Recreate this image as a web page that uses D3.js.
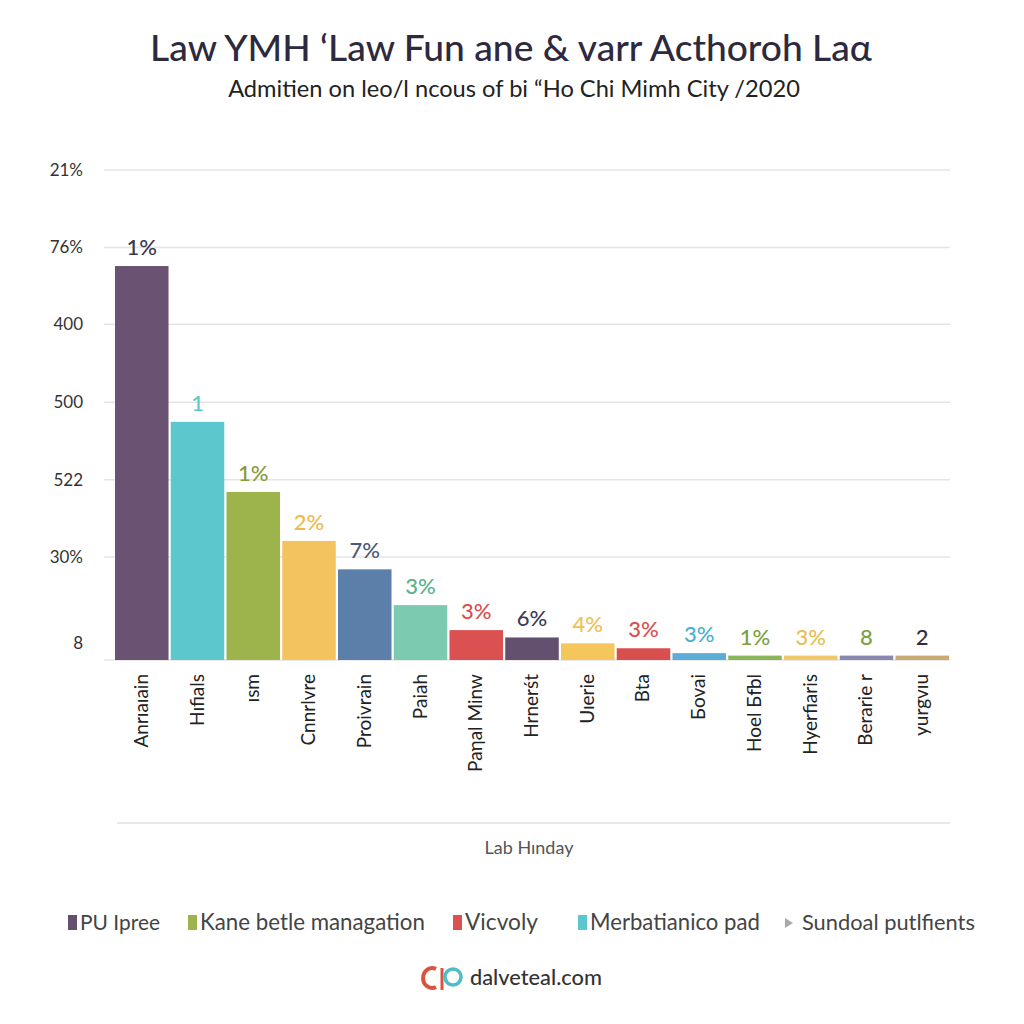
<!DOCTYPE html>
<html><head><meta charset="utf-8">
<script src="https://cdn.jsdelivr.net/npm/d3@7"></script>
<style>body{margin:0;background:#fff}svg{display:block}text{font-family:Lato,"Open Sans",sans-serif}</style>
</head><body><svg id="c" width="1024" height="1024"></svg>
<script>
const title = "Law YMH \u2018Law Fun ane & varr Acthoroh La\u03b1";
const subtitle = "Admitien on leo/l ncous of bi \u201cHo Chi Mimh City /2020";
const categories = ["Anrıaıain","Hıfials","ısm","Cnnrlvre","Proivrain","Paiah","Paηal Minw","Hrnerśt","Uıerie","Bta","Бovai","Hoel Бfbl","Hyerfiaris","Berarie r","yurgvıu"];
const values = [80.4, 48.6, 34.3, 24.3, 18.5, 11.2, 6.1, 4.6, 3.4, 2.4, 1.4, 0.9, 0.9, 0.9, 0.9];
const valueLabels = ["1%","1","1%","2%","7%","3%","3%","6%","4%","3%","3%","1%","3%","8","2"];
const barColors = ["#6a5272","#5cc8cd","#9db34b","#f3c35d","#5b7fa9","#7ccbb1","#db5050","#63506f","#f4c65b","#d94f4f","#5aaed5","#8ab55a","#f0c868","#8a88b0","#c9aa72"];
const labelColors = ["#3b3550","#5cc8cd","#879a3c","#f0b94a","#4a5a7a","#5ab38c","#d94f4f","#3f3a55","#f0c050","#d94f4f","#4ab0d0","#7aa040","#e6c04f","#7aa040","#2f2f3c"];
const yTickValues = [3.5, 21, 36.8, 52.6, 68.5, 84.2, 100];
const yTickLabels = ["8","30%","522","500","400","76%","21%"];
const xTitle = "Lab Hınday";
const legendItems = ["PU Ipree","Kane betle managation","Vicvoly","Merbatianico pad","Sundoal putlfients"];
const legendColors = ["#63506f","#9db34b","#db5050","#5cc8cd","#aaaaaa"];
const legendX = [68, 188, 453, 578, 785];
const legendW = [80, 225, 73, 170, 173];

function fit(sel, w, base){
  const n = sel.node(); const L = n.getComputedTextLength();
  sel.attr("font-size", base * w / L);
}

const svg = d3.select("#c");
const t1 = svg.append("text").attr("x",511).attr("y",61).attr("text-anchor","middle")
  .attr("font-size",30).attr("fill","#2d2a40").attr("font-weight",500).text(title);
fit(t1, 722, 30);
const t2 = svg.append("text").attr("x",514).attr("y",97).attr("text-anchor","middle")
  .attr("font-size",20).attr("fill","#222").text(subtitle);
fit(t2, 572, 20);

const y = d3.scaleLinear().domain([0,100]).range([660,170]);
const x = d3.scaleBand().domain(categories).range([115,949]).paddingInner(0.04).paddingOuter(0);

// grid
svg.append("g").selectAll("line").data(yTickValues.slice(1)).join("line")
  .attr("x1",104).attr("x2",950).attr("y1",d=>y(d)).attr("y2",d=>y(d))
  .attr("stroke","#e4e4e4").attr("stroke-width",1.5);
svg.append("line").attr("x1",104).attr("x2",950).attr("y1",y(0)).attr("y2",y(0))
  .attr("stroke","#e4e4e4").attr("stroke-width",1.5);

// y axis labels
const yAxis = d3.axisLeft(y).tickValues(yTickValues).tickSize(0)
  .tickFormat((d,i)=>yTickLabels[i]);
const ga = svg.append("g").attr("transform","translate(86,0)").call(yAxis);
ga.select(".domain").remove();
ga.selectAll("text").attr("font-size",17).attr("fill","#333").attr("font-family","Lato,sans-serif").attr("dx",0);

// bars
svg.append("g").selectAll("rect").data(values).join("rect")
  .attr("x",(d,i)=>x(categories[i])).attr("width",x.bandwidth())
  .attr("y",d=>y(d)).attr("height",d=>y(0)-y(d))
  .attr("fill",(d,i)=>barColors[i]);

svg.append("g").selectAll("text").data(values).join("text")
  .attr("x",(d,i)=>x(categories[i])+x.bandwidth()/2)
  .attr("y",d=>Math.min(y(d)-11,646))
  .attr("text-anchor","middle").attr("font-size",22).attr("font-weight",500)
  .attr("fill",(d,i)=>labelColors[i]).text((d,i)=>valueLabels[i]);

// category labels
svg.append("g").selectAll("text").data(categories).join("text")
  .attr("transform",d=>`translate(${x(d)+x.bandwidth()/2+6},674) rotate(-90)`)
  .attr("text-anchor","end").attr("font-size",19).attr("fill","#222").text(d=>d);

// lower rule and axis title
svg.append("line").attr("x1",117).attr("x2",950).attr("y1",823).attr("y2",823)
  .attr("stroke","#e0e0e0").attr("stroke-width",1.5);
svg.append("text").attr("x",529).attr("y",854).attr("text-anchor","middle")
  .attr("font-size",18).attr("fill","#555").text(xTitle);

// legend
const lg = svg.append("g");
legendItems.forEach((t,i)=>{
  if(i<4){
    lg.append("rect").attr("x",legendX[i]).attr("y",915).attr("width",9).attr("height",15).attr("fill",legendColors[i]);
  } else {
    lg.append("path").attr("d",`M${legendX[i]},918 L${legendX[i]+8},923 L${legendX[i]},928 Z`).attr("fill",legendColors[i]);
  }
  const tx = lg.append("text").attr("x",legendX[i]+(i<4?12:17)).attr("y",930).attr("font-size",20).attr("fill","#444").text(t);
  fit(tx, legendW[i], 20);
});

// footer logo
const f = svg.append("g");
f.append("path").attr("d","M436,969 A9,10 0 1 0 436,987").attr("fill","none").attr("stroke","#d9533f").attr("stroke-width",4);
f.append("line").attr("x1",442).attr("x2",442).attr("y1",968).attr("y2",990).attr("stroke","#d9533f").attr("stroke-width",3);
f.append("circle").attr("cx",453).attr("cy",977).attr("r",8).attr("fill","none").attr("stroke","#4fbdc8").attr("stroke-width",3.5);
const ft = f.append("text").attr("x",470).attr("y",985).attr("font-size",19).attr("fill","#333").attr("font-weight",500).text("dalveteal.com");
fit(ft, 132, 19);
</script></body></html>
